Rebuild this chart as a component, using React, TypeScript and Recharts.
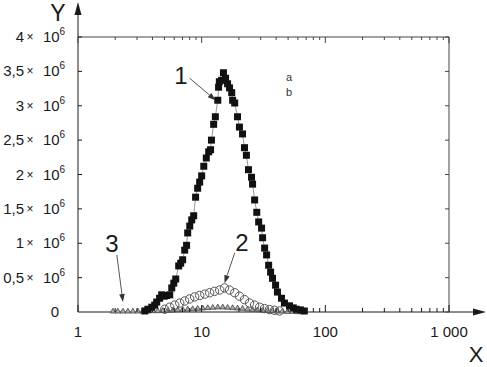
import { ScatterChart, Scatter, XAxis, YAxis, ReferenceLine } from 'recharts'

// values in millions (Y), X on a log axis
const s1X = [3.47, 3.67, 3.95, 4.17, 4.33, 4.57, 4.75, 4.98, 5.2, 5.52, 5.73, 5.95, 6.17, 6.52, 6.77, 7.02, 7.29, 7.55, 7.71, 8.01, 8.31, 8.62, 8.93, 9.28, 9.63, 10.0, 10.4, 10.9, 11.4, 11.8, 12.0, 12.5, 12.9, 13.5, 13.7, 13.9, 14.5, 15.0, 15.6, 16.2, 16.8, 17.5, 17.8, 18.5, 19.5, 20.2, 21.4, 22.2, 23.0, 23.9, 25.3, 25.8, 26.8, 27.9, 28.9, 30.5, 31.1, 32.3, 33.5, 34.8, 36.1, 37.4, 39.6, 41.0, 44.2, 46.7, 51.3, 55.0, 58.2, 62.9, 67.6]
const s1Y = [0.015, 0.04, 0.07, 0.1, 0.145, 0.2, 0.25, 0.23, 0.24, 0.25, 0.35, 0.42, 0.48, 0.67, 0.71, 0.76, 0.9, 0.97, 1.15, 1.25, 1.34, 1.4, 1.67, 1.8, 1.89, 1.98, 2.12, 2.24, 2.33, 2.36, 2.5, 2.73, 2.84, 3.08, 3.27, 3.35, 3.37, 3.48, 3.4, 3.32, 3.26, 3.19, 3.08, 3.04, 2.84, 2.69, 2.59, 2.39, 2.28, 2.07, 1.96, 1.86, 1.63, 1.45, 1.31, 1.22, 1.08, 0.93, 0.83, 0.68, 0.58, 0.49, 0.39, 0.29, 0.2, 0.13, 0.09, 0.06, 0.04, 0.03, 0.015]

const s2X = [5.03, 5.52, 6.06, 6.65, 7.29, 8.0, 8.78, 9.64, 10.6, 11.6, 12.7, 14.0, 15.3, 16.8, 18.5, 20.2, 22.2, 24.4, 26.8, 29.4, 32.2, 35.3, 38.8, 42.6]
const s2Y = [0.04, 0.07, 0.1, 0.13, 0.16, 0.19, 0.22, 0.24, 0.26, 0.28, 0.3, 0.32, 0.35, 0.32, 0.28, 0.23, 0.18, 0.13, 0.1, 0.07, 0.05, 0.035, 0.025, 0.015]

const s3X = [1.92, 2.1, 2.31, 2.53, 2.78, 3.05, 3.34, 3.67, 4.03, 4.42, 4.85, 5.32, 5.84, 6.4, 7.03, 7.71, 8.46, 9.29, 10.2, 11.2, 12.3, 13.5, 14.8, 16.2, 17.8, 19.5, 21.4, 23.5, 25.8, 28.3, 31.0, 34.1, 37.4, 41.0, 45.0, 49.4, 54.2, 59.5, 65.3]
const s3Y = [0.02, 0.02, 0.02, 0.02, 0.02, 0.02, 0.02, 0.02, 0.025, 0.025, 0.03, 0.03, 0.035, 0.04, 0.045, 0.05, 0.055, 0.06, 0.065, 0.07, 0.075, 0.08, 0.08, 0.075, 0.07, 0.065, 0.06, 0.05, 0.045, 0.04, 0.035, 0.03, 0.025, 0.02, 0.02, 0.015, 0.015, 0.01, 0.01]

const X_TICKS = [1, 2, 3, 4, 5, 6, 7, 8, 9, 10, 20, 30, 40, 50, 60, 70, 80, 90, 100, 200, 300, 400, 500, 600, 700, 800, 900, 1000]
const X_LABELS: Record<number, string> = { 1: '1', 10: '10', 100: '100', 1000: '1 000' }
const Y_TICKS = [0, 0.5, 1, 1.5, 2, 2.5, 3, 3.5, 4]
const Y_MANTISSA = ['0', '0,5', '1', '1,5', '2', '2,5', '3', '3,5', '4']

const toPts = (xs: number[], ys: number[]) => xs.map((x, i) => ({ x, y: ys[i] }))
const data1 = toPts(s1X, s1Y)
const data2 = toPts(s2X, s2Y)
const data3 = toPts(s3X, s3Y)

const FONT = '"Liberation Sans", Arial, sans-serif'
const INK = '#1a1a1a'

const BottomTick = ({ x, y, payload }: any) => {
  const v = payload.value
  const label = X_LABELS[v]
  return (
    <g>
      <line x1={x} x2={x} y1={y} y2={y - (label ? 7 : 4)} stroke={INK} />
      {label && (
        <text x={x} y={y + 25} textAnchor="middle" fontSize={15} fill={INK} fontFamily={FONT}>{label}</text>
      )}
    </g>
  )
}

const TopTick = ({ x, y, payload }: any) => (
  <line x1={x} x2={x} y1={y} y2={y + (X_LABELS[payload.value] ? 6 : 3)} stroke="#444" />
)

// "m × 10^6" laid out piece by piece relative to the axis line
const LeftTick = ({ x, y, payload, index }: any) => {
  const m = Y_MANTISSA[index] ?? String(payload.value)
  const t = { fill: INK, fontFamily: FONT }
  if (payload.value === 0) {
    return <text x={x - 19} y={y + 5} textAnchor="end" fontSize={15} {...t}>0</text>
  }
  return (
    <g>
      <line x1={x} x2={x + 4} y1={y} y2={y} stroke={INK} />
      <text x={x - 54} y={y + 5} textAnchor="end" fontSize={15} {...t}>{m}</text>
      <text x={x - 48} y={y + 4} textAnchor="middle" fontSize={12} {...t}>×</text>
      <text x={x - 35} y={y + 5} textAnchor="start" fontSize={15} {...t}>10</text>
      <text x={x - 18.5} y={y - 2} textAnchor="start" fontSize={10} {...t}>6</text>
    </g>
  )
}

const RightTick = ({ x, y }: any) => <line x1={x} x2={x - 4} y1={y} y2={y} stroke="#444" />

const Square = ({ cx, cy }: any) => <rect x={cx - 3.5} y={cy - 3.5} width={7} height={7} fill="#111" />
const Circle = ({ cx, cy }: any) => <circle cx={cx} cy={cy} r={4.2} fill="none" stroke="#555" strokeWidth={1} />
const Tri = ({ cx, cy }: any) => (
  <polygon points={`${cx - 2.8},${cy + 2.4} ${cx + 2.8},${cy + 2.4} ${cx},${cy - 2.4}`} fill="#aaa" stroke="#444" strokeWidth={0.8} />
)
const Nothing = () => <g />

const Arrow = (p: any) => {
  const { x1, y1, x2, y2 } = p
  const a = Math.atan2(y2 - y1, x2 - x1)
  const L = 8
  const W = 2.8
  const bx = x2 - L * Math.cos(a)
  const by = y2 - L * Math.sin(a)
  const nx = -Math.sin(a) * W
  const ny = Math.cos(a) * W
  return (
    <g>
      <line x1={x1} y1={y1} x2={bx} y2={by} stroke="#555" strokeWidth={1} />
      <polygon points={`${x2},${y2} ${bx + nx},${by + ny} ${bx - nx},${by - ny}`} fill="#333" />
    </g>
  )
}

export default function App() {
  return (
    <div style={{ position: 'absolute', left: 0, top: 0, width: 487, height: 367, background: '#fff' }}>
      <ScatterChart width={487} height={367} margin={{ top: 36, right: 37, left: 8, bottom: 25 }}>
        <XAxis
          dataKey="x" type="number" scale="log" domain={[1, 1000]} ticks={X_TICKS} interval={0}
          height={30} tickSize={0} tickMargin={0} tick={<BottomTick />} axisLine={{ stroke: INK }} tickLine={false}
        />
        <XAxis
          xAxisId="top" orientation="top" dataKey="x" type="number" scale="log" domain={[1, 1000]} ticks={X_TICKS} interval={0}
          height={1} tickSize={0} tickMargin={0} tick={<TopTick />} axisLine={{ stroke: '#444' }} tickLine={false}
        />
        <YAxis
          dataKey="y" type="number" domain={[0, 4]} ticks={Y_TICKS} interval={0}
          width={70} tickSize={0} tickMargin={0} tick={<LeftTick />} axisLine={{ stroke: INK }} tickLine={false}
        />
        <YAxis
          yAxisId="right" orientation="right" dataKey="y" type="number" domain={[0, 4]} ticks={Y_TICKS} interval={0}
          width={1} tickSize={0} tickMargin={0} tick={<RightTick />} axisLine={{ stroke: '#444' }} tickLine={false}
        />
        <Scatter data={data1} xAxisId="top" yAxisId="right" shape={<Nothing />} isAnimationActive={false} />
        <Scatter data={data3} shape={<Tri />} isAnimationActive={false} />
        <Scatter data={data2} shape={<Circle />} isAnimationActive={false} />
        <Scatter data={data1} shape={<Square />} line={{ stroke: '#999', strokeWidth: 1 }} isAnimationActive={false} />
        <ReferenceLine segment={[{ x: 8.0, y: 3.4 }, { x: 12.97, y: 3.08 }]} shape={Arrow} />
        <ReferenceLine segment={[{ x: 18.5, y: 0.86 }, { x: 15.3, y: 0.42 }]} shape={Arrow} />
        <ReferenceLine segment={[{ x: 2.06, y: 0.83 }, { x: 2.31, y: 0.145 }]} shape={Arrow} />
      </ScatterChart>
      <svg width={487} height={367} style={{ position: 'absolute', left: 0, top: 0, pointerEvents: 'none' }} fontFamily={FONT}>
        <line x1={78} y1={37} x2={78} y2={12} stroke={INK} />
        <polygon points="78,2 74.5,15 81.5,15" fill={INK} />
        <line x1={449} y1={312} x2={475} y2={312} stroke={INK} />
        <polygon points="486,312 473,308.5 473,315.5" fill={INK} />
        <text x={58} y={21} textAnchor="middle" fontSize={23} fill={INK}>Y</text>
        <text x={476} y={362} textAnchor="middle" fontSize={22} fill={INK}>X</text>
        <text x={181} y={84} textAnchor="middle" fontSize={24} fill={INK}>1</text>
        <text x={242} y={251} textAnchor="middle" fontSize={24} fill={INK}>2</text>
        <text x={112} y={252} textAnchor="middle" fontSize={24} fill={INK}>3</text>
        <text x={289} y={81} textAnchor="middle" fontSize={11} fill="#333">a</text>
        <text x={289} y={96} textAnchor="middle" fontSize={11} fill="#333">b</text>
      </svg>
    </div>
  )
}
